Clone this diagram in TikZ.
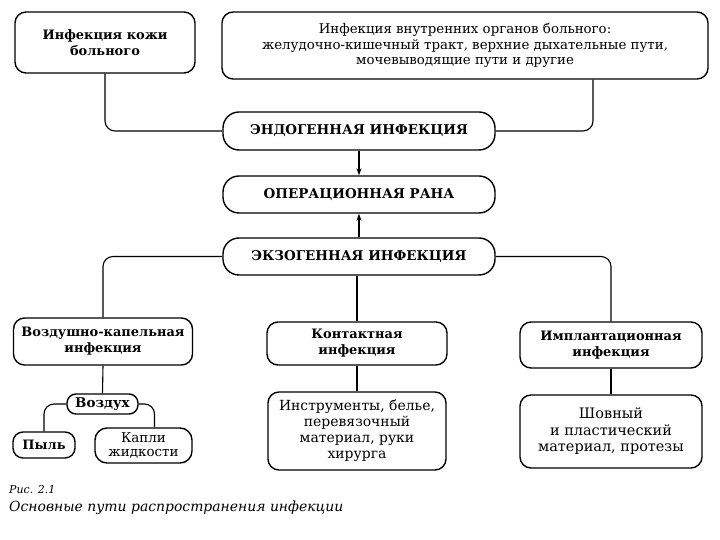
\documentclass[tikz,border=0pt]{standalone}
\usepackage{fontspec}
\setmainfont{DejaVu Serif}
\usepackage{tikz}
\usetikzlibrary{arrows.meta,positioning}

\begin{document}
\begin{tikzpicture}[x=1bp,y=-1bp,
  box/.style={draw,line width=1.4pt,rounded corners=11bp,align=center,inner sep=1pt,
    font=\fontsize{13.4}{15.5}\selectfont},
  head/.style={box,font=\fontsize{13}{16}\selectfont\bfseries},
  pill/.style={box,rounded corners=16bp,font=\fontsize{13.5}{15}\selectfont\bfseries},
  link/.style={line width=1.1pt,rounded corners=10bp},
  into/.style={line width=1.1pt,-{Stealth[length=7pt,width=5pt]}}]
  \useasboundingbox (0,0) rectangle (720,540);
  % top row
  \node[head,minimum width=180bp,minimum height=61bp] (skin) at (105,42.5) {Инфекция кожи\\больного};
  \node[box,minimum width=486bp,minimum height=67bp] (organs) at (465,45.5) {Инфекция внутренних органов больного:\\желудочно-кишечный тракт, верхние дыхательные пути,\\мочевыводящие пути и другие};
  % middle column
  \node[pill,minimum width=272bp,minimum height=38bp] (endo) at (359,131) {ЭНДОГЕННАЯ ИНФЕКЦИЯ};
  \node[pill,minimum width=272bp,minimum height=37bp] (wound) at (359,194.5) {ОПЕРАЦИОННАЯ РАНА};
  \node[pill,minimum width=272bp,minimum height=37bp] (exo) at (359,256.5) {ЭКЗОГЕННАЯ ИНФЕКЦИЯ};
  \draw[link] (skin.south) |- (endo.west);
  \draw[link] ([xshift=128bp]organs.south) |- (endo.east);
  \draw[into] (endo) -- (wound);
  \draw[into] (exo) -- (wound);
  % three kinds of exogenous infection
  \node[head,minimum width=179bp,minimum height=47bp] (airdrop) at (103,341.5) {Воздушно-капельная\\инфекция};
  \node[head,minimum width=180bp,minimum height=43bp] (contact) at (357,343.5) {Контактная\\инфекция};
  \node[head,minimum width=182bp,minimum height=46bp] (implant) at (611,345) {Имплантационная\\инфекция};
  \draw[link] (exo.west) -| (airdrop.north);
  \draw[link] (exo.east) -| (implant.north);
  \draw[link] (contact.north |- exo.south) -- (contact.north);
  % sources
  \node[head,rounded corners=9bp,minimum width=71bp,minimum height=20bp,font=\fontsize{13.5}{15}\selectfont\bfseries] (air) at (102.5,404) {Воздух};
  \node[head,rounded corners=10bp,minimum width=62bp,minimum height=26bp] (dust) at (44,445) {Пыль};
  \node[box,rounded corners=12bp,minimum width=97bp,minimum height=35bp,font=\fontsize{13.5}{15}\selectfont] (drops) at (143.5,445.5) {Капли\\жидкости};
  \node[box,minimum width=178bp,minimum height=78bp,font=\fontsize{14}{16}\selectfont] (tools) at (357,431) {Инструменты, белье,\\перевязочный\\материал, руки\\хирурга};
  \node[box,minimum width=182bp,minimum height=73bp,font=\fontsize{14.5}{16.5}\selectfont] (suture) at (611,431.5) {Шовный\\и пластический\\материал, протезы};
  \draw[link] (airdrop.south) -- (air.north);
  \draw[link] (air.west) -| (dust.north);
  \draw[link] (air.east) -| ([xshift=11bp]drops.north);
  \draw[link] (contact.south) -- (tools.north);
  \draw[link] (implant.south) -- (suture.north);
  % caption
  \node[anchor=west,inner sep=0pt,font=\fontsize{11}{13}\selectfont\itshape] (fig) at (9,490) {Рис. 2.1};
  \node[anchor=west,inner sep=0pt,font=\fontsize{14}{16}\selectfont\itshape] (title) at (9,508) {Основные пути распространения инфекции};
\end{tikzpicture}
\end{document}
